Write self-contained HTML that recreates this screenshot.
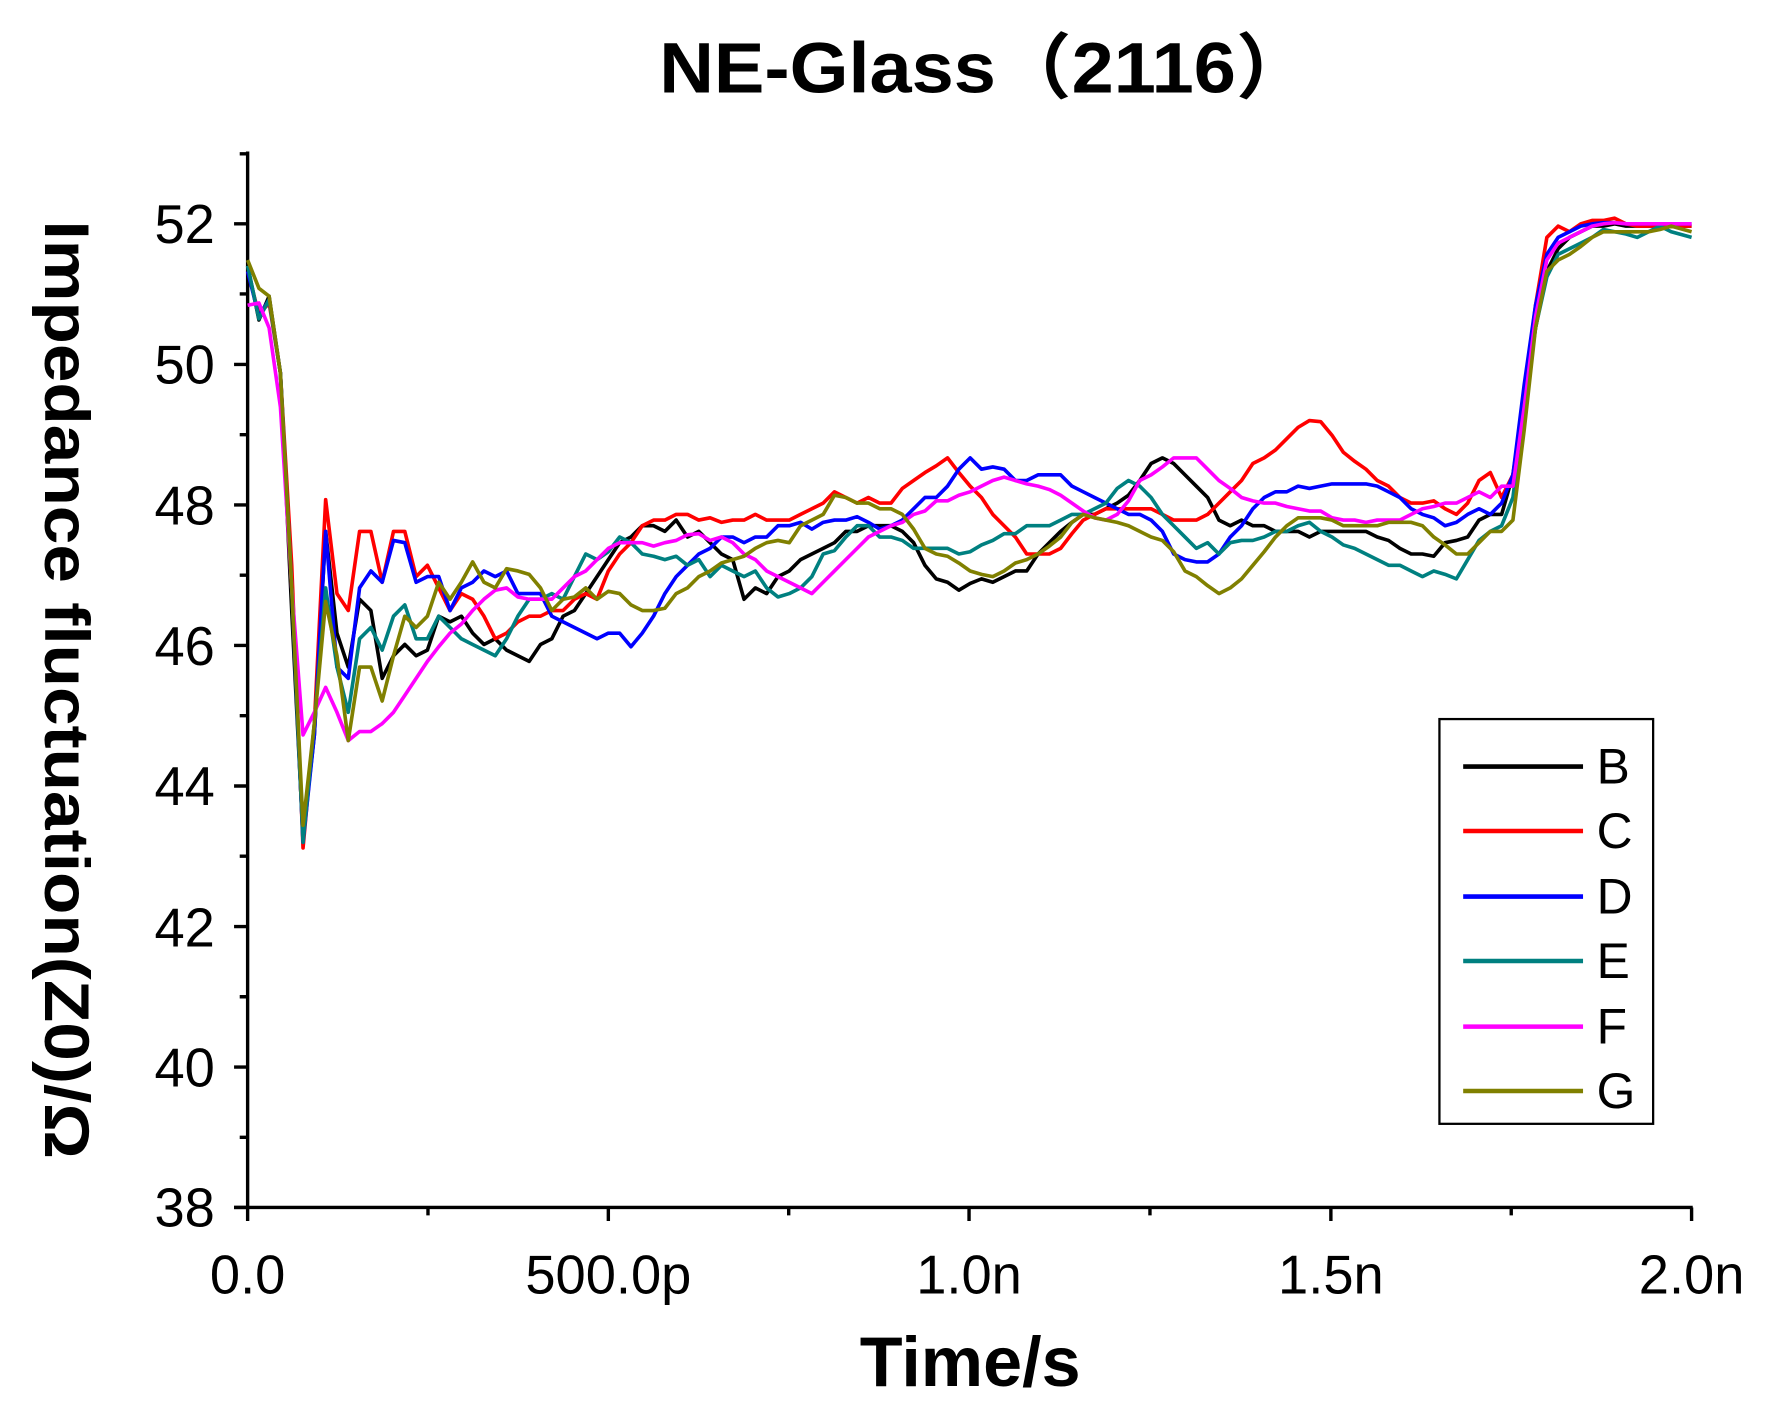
<!DOCTYPE html>
<html><head><meta charset="utf-8"><style>html,body{margin:0;padding:0;background:#fff}svg{display:block}</style></head>
<body>
<svg width="1773" height="1411" viewBox="0 0 1568 1248" preserveAspectRatio="none" xmlns="http://www.w3.org/2000/svg" font-family="Liberation Sans, Arial, sans-serif">
<rect width="1568" height="1248" fill="#fff"/>
<text x="583" y="82" font-size="63" font-weight="bold" textLength="577" lengthAdjust="spacingAndGlyphs" font-family="Liberation Sans, 'Noto Sans CJK SC', sans-serif">NE-Glass（2116）</text>
<g stroke="#000" stroke-width="3" fill="none">
<line x1="219" y1="134" x2="219" y2="1080"/>
<line x1="207" y1="1068" x2="1497" y2="1068"/>
<path d="M207 198H219M207 322.3H219M207 446.6H219M207 570.9H219M207 695.2H219M207 819.5H219M207 943.8H219M207 1068H219"/>
<path d="M212 136H219M212 260H219M212 384.5H219M212 508.7H219M212 633H219M212 757.3H219M212 881.6H219M212 1005.9H219"/>
<path d="M538 1068V1080M857 1068V1080M1177 1068V1080M1496 1068V1080"/>
<path d="M378.5 1068V1075M697.5 1068V1075M1017 1068V1075M1336.5 1068V1075"/>
</g>
<g font-size="48" text-anchor="end">
<text x="190" y="215">52</text><text x="190" y="339">50</text><text x="190" y="464">48</text><text x="190" y="588">46</text><text x="190" y="712">44</text><text x="190" y="837">42</text><text x="190" y="961">40</text><text x="190" y="1085">38</text>
</g>
<g font-size="48" text-anchor="middle">
<text x="219" y="1144">0.0</text><text x="538" y="1144">500.0p</text><text x="857" y="1144">1.0n</text><text x="1177" y="1144">1.5n</text><text x="1496" y="1144">2.0n</text>
</g>
<text x="858" y="1226" font-size="62" font-weight="bold" text-anchor="middle">Time/s</text>
<text transform="translate(40,195) rotate(90)" font-size="56" font-weight="bold" textLength="830" lengthAdjust="spacingAndGlyphs">Impedance fluctuation(Z0)/Ω</text>
<g fill="none" stroke-width="3.2" stroke-linejoin="round">
<polyline stroke="#000" points="219,235 229,283 238,262 248,330 258,540 268,740 278,650 288,470 298,560 308,590 318,530 328,540 338,600 348,580 358,570 368,580 378,575 388,545 398,550 408,545 418,560 428,570 438,565 448,575 458,580 468,585 478,570 488,565 498,545 508,540 518,525 528,510 538,495 548,480 558,475 568,465 578,465 588,470 598,460 608,475 618,470 628,480 638,490 648,495 658,530 668,520 678,525 688,510 698,505 708,495 718,490 728,485 738,480 748,470 758,470 768,465 778,465 788,465 798,470 808,480 818,500 828,512 838,515 848,522 858,516 868,512 878,515 888,510 898,505 908,505 918,490 928,480 938,470 948,462 958,455 968,455 978,450 988,445 998,438 1008,425 1018,410 1028,405 1038,410 1048,420 1058,430 1068,440 1078,460 1088,465 1098,460 1108,465 1118,465 1128,470 1138,470 1148,470 1158,475 1168,470 1178,470 1188,470 1198,470 1208,470 1218,475 1228,478 1238,485 1248,490 1258,490 1268,492 1278,480 1288,478 1298,475 1308,460 1318,455 1328,455 1338,420 1348,360 1358,290 1368,240 1378,220 1388,210 1398,205 1408,200 1418,200 1428,198 1438,200 1448,200 1458,200 1468,200 1478,200 1496,200"/>
<polyline stroke="#ff0000" points="219,240 229,278 238,268 248,330 258,500 268,750 278,640 288,442 298,525 308,540 318,470 328,470 338,515 348,470 358,470 368,510 378,500 388,520 398,540 408,525 418,530 428,545 438,565 448,560 458,550 468,545 478,545 488,540 498,540 508,530 518,525 528,530 538,505 548,490 558,480 568,465 578,460 588,460 598,455 608,455 618,460 628,458 638,462 648,460 658,460 668,455 678,460 688,460 698,460 708,455 718,450 728,445 738,435 748,440 758,445 768,440 778,445 788,445 798,432 808,425 818,418 828,412 838,405 848,418 858,430 868,440 878,455 888,465 898,475 908,490 918,490 928,490 938,485 948,472 958,460 968,455 978,450 988,450 998,450 1008,450 1018,450 1028,455 1038,460 1048,460 1058,460 1068,455 1078,445 1088,435 1098,425 1108,410 1118,405 1128,398 1138,388 1148,378 1158,372 1168,373 1178,385 1188,400 1198,408 1208,415 1218,425 1228,430 1238,440 1248,445 1258,445 1268,443 1278,450 1288,455 1298,445 1308,425 1318,418 1328,440 1338,420 1348,350 1358,270 1368,210 1378,200 1388,205 1398,198 1408,195 1418,195 1428,193 1438,198 1448,200 1458,200 1468,200 1478,200 1496,200"/>
<polyline stroke="#0000ff" points="219,240 229,280 238,265 248,330 258,520 268,745 278,650 288,470 298,590 308,600 318,520 328,505 338,515 348,478 358,480 368,515 378,510 388,510 398,540 408,520 418,515 428,505 438,510 448,505 458,525 468,525 478,525 488,545 498,550 508,555 518,560 528,565 538,560 548,560 558,572 568,560 578,545 588,525 598,510 608,500 618,490 628,485 638,475 648,475 658,480 668,475 678,475 688,465 698,465 708,462 718,468 728,462 738,460 748,460 758,457 768,462 778,468 788,465 798,460 808,450 818,440 828,440 838,430 848,415 858,405 868,415 878,413 888,415 898,425 908,425 918,420 928,420 938,420 948,430 958,435 968,440 978,445 988,450 998,455 1008,455 1018,460 1028,470 1038,490 1048,495 1058,497 1068,497 1078,490 1088,475 1098,465 1108,450 1118,440 1128,435 1138,435 1148,430 1158,432 1168,430 1178,428 1188,428 1198,428 1208,428 1218,430 1228,435 1238,440 1248,450 1258,455 1268,458 1278,465 1288,462 1298,455 1308,450 1318,455 1328,445 1338,420 1348,340 1358,270 1368,225 1378,210 1388,205 1398,200 1408,198 1418,197 1428,197 1438,198 1448,198 1458,198 1468,198 1478,198 1496,198"/>
<polyline stroke="#008080" points="219,235 229,282 238,265 248,330 258,520 268,745 278,640 288,520 298,590 308,630 318,565 328,555 338,575 348,545 358,535 368,565 378,565 388,545 398,555 408,565 418,570 428,575 438,580 448,565 458,545 468,530 478,530 488,525 498,530 508,510 518,490 528,495 538,488 548,475 558,480 568,490 578,492 588,495 598,492 608,500 618,495 628,510 638,500 648,505 658,510 668,505 678,520 688,528 698,525 708,520 718,510 728,490 738,487 748,475 758,465 768,465 778,475 788,475 798,478 808,485 818,485 828,485 838,485 848,490 858,488 868,482 878,478 888,472 898,472 908,465 918,465 928,465 938,460 948,455 958,455 968,450 978,445 988,432 998,425 1008,430 1018,440 1028,455 1038,465 1048,475 1058,485 1068,480 1078,490 1088,480 1098,478 1108,478 1118,475 1128,470 1138,470 1148,465 1158,462 1168,470 1178,475 1188,482 1198,485 1208,490 1218,495 1228,500 1238,500 1248,505 1258,510 1268,505 1278,508 1288,512 1298,495 1308,478 1318,470 1328,465 1338,440 1348,360 1358,290 1368,245 1378,225 1388,220 1398,215 1408,210 1418,203 1428,205 1438,207 1448,210 1458,205 1468,200 1478,205 1496,210"/>
<polyline stroke="#ff00ff" points="219,270 229,268 238,290 248,360 258,520 268,650 278,630 288,608 298,630 308,655 318,647 328,647 338,640 348,630 358,615 368,600 378,585 388,572 398,560 408,552 418,540 428,530 438,522 448,520 458,528 468,530 478,530 488,530 498,520 508,510 518,505 528,495 538,485 548,480 558,480 568,480 578,483 588,480 598,478 608,473 618,472 628,478 638,475 648,480 658,490 668,495 678,505 688,510 698,515 708,520 718,525 728,515 738,505 748,495 758,485 768,475 778,470 788,465 798,462 808,455 818,452 828,443 838,443 848,438 858,435 868,430 878,425 888,422 898,425 908,428 918,430 928,433 938,438 948,445 958,452 968,458 978,460 988,455 998,443 1008,425 1018,420 1028,413 1038,405 1048,405 1058,405 1068,415 1078,425 1088,432 1098,440 1108,443 1118,445 1128,445 1138,448 1148,450 1158,452 1168,452 1178,458 1188,460 1198,460 1208,462 1218,460 1228,460 1238,460 1248,455 1258,450 1268,448 1278,445 1288,445 1298,440 1308,435 1318,440 1328,430 1338,430 1348,360 1358,280 1368,230 1378,215 1388,210 1398,205 1408,200 1418,198 1428,197 1438,198 1448,198 1458,198 1468,198 1478,198 1496,198"/>
<polyline stroke="#808000" points="219,230 229,255 238,262 248,330 258,520 268,730 278,640 288,532 298,580 308,655 318,590 328,590 338,620 348,580 358,545 368,555 378,545 388,515 398,530 408,515 418,497 428,515 438,520 448,503 458,505 468,508 478,520 488,540 498,530 508,528 518,520 528,530 538,523 548,525 558,535 568,540 578,540 588,538 598,525 608,520 618,510 628,505 638,498 648,495 658,492 668,485 678,480 688,478 698,480 708,465 718,460 728,455 738,438 748,440 758,445 768,445 778,450 788,450 798,455 808,468 818,485 828,490 838,492 848,498 858,505 868,508 878,510 888,505 898,498 908,495 918,490 928,483 938,475 948,462 958,455 968,458 978,460 988,462 998,465 1008,470 1018,475 1028,478 1038,488 1048,505 1058,510 1068,518 1078,525 1088,520 1098,512 1108,500 1118,488 1128,475 1138,465 1148,458 1158,458 1168,458 1178,460 1188,465 1198,465 1208,465 1218,465 1228,462 1238,462 1248,462 1258,465 1268,475 1278,482 1288,490 1298,490 1308,480 1318,470 1328,470 1338,460 1348,380 1358,290 1368,240 1378,230 1388,225 1398,218 1408,210 1418,205 1428,205 1438,205 1448,205 1458,205 1468,203 1478,200 1496,205"/>
</g>
<rect x="1273" y="636" width="189" height="358" fill="#fff" stroke="#000" stroke-width="2"/>
<g stroke-width="4">
<line x1="1294" y1="678" x2="1400" y2="678" stroke="#000"/>
<line x1="1294" y1="735" x2="1400" y2="735" stroke="#ff0000"/>
<line x1="1294" y1="793" x2="1400" y2="793" stroke="#0000ff"/>
<line x1="1294" y1="850" x2="1400" y2="850" stroke="#008080"/>
<line x1="1294" y1="908" x2="1400" y2="908" stroke="#ff00ff"/>
<line x1="1294" y1="965" x2="1400" y2="965" stroke="#808000"/>
</g>
<g font-size="44">
<text x="1412" y="693">B</text><text x="1412" y="750">C</text><text x="1412" y="808">D</text><text x="1412" y="865">E</text><text x="1412" y="923">F</text><text x="1412" y="980">G</text>
</g>
</svg>
</body></html>
